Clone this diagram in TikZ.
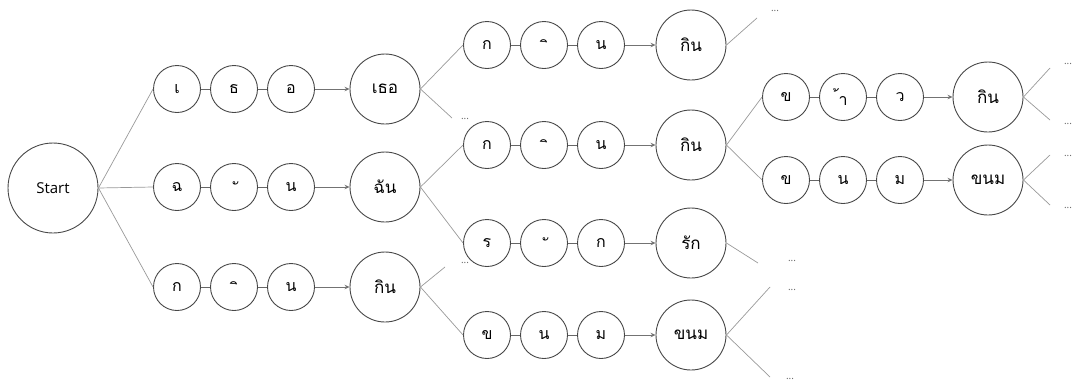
\documentclass[tikz,border=0pt]{standalone}
\usepackage{fontspec}
\setmainfont{Open Sans}
\newfontfamily\thaifont[Script=Thai]{Loma}
\usetikzlibrary{arrows.meta}
\tikzset{
  letter/.style={circle, draw=black!72, line width=0.9pt, minimum size=47pt, inner sep=0pt, font=\thaifont\fontsize{16}{16}\selectfont},
  word/.style={circle, draw=black!72, line width=0.9pt, minimum size=70pt, inner sep=0pt, font=\thaifont\fontsize{17}{17}\selectfont},
  startnode/.style={circle, draw=black!72, line width=0.9pt, minimum size=90pt, inner sep=0pt, font=\fontsize{15}{15}\selectfont},
  marktext/.style={inner sep=0pt, font=\thaifont\fontsize{16}{16}\selectfont},
  link/.style={draw=black!60, line width=0.9pt},
  arr/.style={draw=black!55, line width=0.8pt, -{Stealth[length=5pt,width=4.5pt]}},
  branch/.style={draw=black!40, line width=0.7pt},
  more/.style={font=\fontsize{10}{10}\selectfont, text=black!60, inner sep=0pt},
}
\begin{document}
\begin{tikzpicture}[x=1pt,y=-1pt]
\useasboundingbox (0,0) rectangle (1073,381);
\node[startnode] (S) at (53,188) {Start};
% column 1
\node[letter] (a1) at (177,89) {เ};
\node[letter] (a2) at (234,89) {ธ};
\node[letter] (a3) at (291,89) {อ};
\node[word] (A) at (385,89) {เธอ};
\node[letter] (b1) at (177,187) {ฉ};
\node[letter] (b2) at (234,187) {};
\node[marktext] (tb2) at ([xshift=4.5pt,yshift=-1pt]b2.center) {ั};
\node[letter] (b3) at (291,187) {น};
\node[word] (B) at (385,187) {ฉัน};
\node[letter] (c1) at (177,287) {ก};
\node[letter] (c2) at (234,287) {};
\node[marktext] (tc2) at ([xshift=4.5pt,yshift=-1pt]c2.center) {ิ};
\node[letter] (c3) at (291,287) {น};
\node[word] (C) at (385,287) {กิน};
% column 2
\node[letter] (d1) at (487,45) {ก};
\node[letter] (d2) at (544,45) {};
\node[marktext] (td2) at ([xshift=4.5pt,yshift=-1pt]d2.center) {ิ};
\node[letter] (d3) at (601,45) {น};
\node[word] (D) at (691,45) {กิน};
\node[letter] (e1) at (487,145) {ก};
\node[letter] (e2) at (544,145) {};
\node[marktext] (te2) at ([xshift=4.5pt,yshift=-1pt]e2.center) {ิ};
\node[letter] (e3) at (601,145) {น};
\node[word] (E) at (691,145) {กิน};
\node[letter] (f1) at (487,243) {ร};
\node[letter] (f2) at (544,243) {};
\node[marktext] (tf2) at ([xshift=4.5pt,yshift=-1pt]f2.center) {ั};
\node[letter] (f3) at (601,243) {ก};
\node[word] (F) at (691,243) {รัก};
\node[letter] (g1) at (487,335) {ข};
\node[letter] (g2) at (544,335) {น};
\node[letter] (g3) at (601,335) {ม};
\node[word] (G) at (691,335) {ขนม};
% column 3
\node[letter] (h1) at (786,97) {ข};
\node[letter] (h2) at (843,97) {้า};
\node[letter] (h3) at (900,97) {ว};
\node[word] (H) at (988,97) {กิน};
\node[letter] (k1) at (786,180) {ข};
\node[letter] (k2) at (843,180) {น};
\node[letter] (k3) at (900,180) {ม};
\node[word] (K) at (988,180) {ขนม};
% chains
\foreach \r/\W in {a/A,b/B,c/C,d/D,e/E,f/F,g/G,h/H,k/K}{
  \draw[link] (\r1.east) -- (\r2.west);
  \draw[link] (\r2.east) -- (\r3.west);
  \draw[arr] (\r3) -- (\W);
}
% ellipsis ends
\coordinate (xA) at (452,118); \node[more] (mA) at (465,119) {...};
\coordinate (xC) at (445,267); \node[more] (mC) at (465,263) {...};
\coordinate (xD) at (757,18);  \node[more] (mD) at (775,11) {...};
\coordinate (xF) at (758,263); \node[more] (mF) at (792,261) {...};
\coordinate (xG1) at (770,287); \node[more] (mG1) at (792,290) {...};
\coordinate (xG2) at (770,377); \node[more] (mG2) at (790,379) {...};
\coordinate (xH1) at (1050,68); \node[more] (mH1) at (1068,64) {...};
\coordinate (xH2) at (1050,120); \node[more] (mH2) at (1068,124) {...};
\coordinate (xK1) at (1050,155); \node[more] (mK1) at (1068,156) {...};
\coordinate (xK2) at (1050,205); \node[more] (mK2) at (1068,208) {...};
% branches
\draw[branch] (S.east) -- (a1.west);
\draw[branch] (S.east) -- (b1.west);
\draw[branch] (S.east) -- (c1.west);
\draw[branch] (A.east) -- (d1.west);
\draw[branch] (A.east) -- (xA);
\draw[branch] (B.east) -- (e1.west);
\draw[branch] (B.east) -- (f1.west);
\draw[branch] (C.east) -- (xC);
\draw[branch] (C.east) -- (g1.west);
\draw[branch] (D.east) -- (xD);
\draw[branch] (E.east) -- (h1.west);
\draw[branch] (E.east) -- (k1.west);
\draw[branch] (F.east) -- (xF);
\draw[branch] (G.east) -- (xG1);
\draw[branch] (G.east) -- (xG2);
\draw[branch] (H.east) -- (xH1);
\draw[branch] (H.east) -- (xH2);
\draw[branch] (K.east) -- (xK1);
\draw[branch] (K.east) -- (xK2);
\end{tikzpicture}
\end{document}
